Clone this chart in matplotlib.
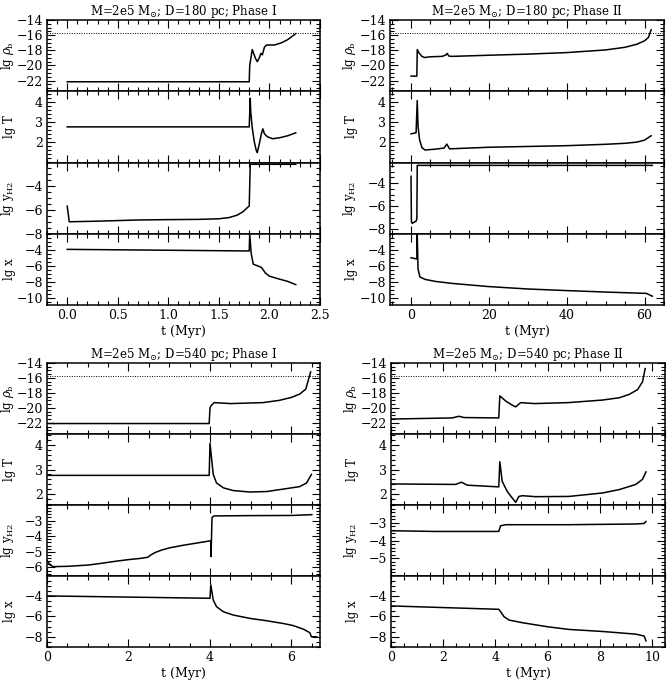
import matplotlib
matplotlib.use('Agg')
import matplotlib.pyplot as plt
from matplotlib.ticker import MultipleLocator

plt.rcParams['font.family'] = 'DejaVu Serif'
plt.rcParams['mathtext.fontset'] = 'dejavuserif'
plt.rcParams['font.size'] = 8.5

# ---- D=180 pc, Phase I ----
t1_rho = [0, 1.80, 1.805, 1.83, 1.86, 1.88, 1.90, 1.915, 1.93, 1.95, 1.97, 2.05, 2.12, 2.18, 2.22, 2.26]
rho1 = [-22.15, -22.15, -20.0, -17.9, -19.0, -19.5, -19.0, -18.4, -18.6, -17.6, -17.3, -17.3, -17.0, -16.6, -16.2, -15.8]
t1_T = [0, 1.80, 1.81, 1.815, 1.83, 1.85, 1.87, 1.88, 1.90, 1.92, 1.935, 1.95, 1.98, 2.03, 2.10, 2.18, 2.26]
T1 = [2.75, 2.75, 4.2, 3.5, 2.7, 2.0, 1.55, 1.45, 1.9, 2.4, 2.65, 2.4, 2.25, 2.15, 2.2, 2.3, 2.45]
t1_y = [0, 0.02, 0.3, 0.7, 1.0, 1.3, 1.5, 1.6, 1.68, 1.74, 1.79, 1.80, 1.81, 2.26]
yh1 = [-5.7, -7.0, -6.95, -6.85, -6.82, -6.8, -6.75, -6.65, -6.45, -6.15, -5.75, -5.7, -2.2, -2.2]
t1_x = [0, 1.80, 1.805, 1.82, 1.84, 1.88, 1.92, 1.96, 2.0, 2.08, 2.18, 2.26]
xe1 = [-3.95, -4.15, -2.1, -4.5, -5.8, -6.0, -6.2, -6.9, -7.3, -7.6, -7.95, -8.35]

# ---- D=180 pc, Phase II ----
t2_rho = [0, 1.5, 1.6, 2.0, 2.8, 3.5, 5, 8, 9.0, 9.3, 9.7, 10.5, 20, 30, 40, 50, 55, 58, 60, 61, 61.7]
rho2 = [-21.4, -21.4, -17.9, -18.3, -18.8, -18.95, -18.85, -18.8, -18.6, -18.4, -18.75, -18.8, -18.65, -18.5, -18.3, -17.95, -17.6, -17.2, -16.75, -16.3, -15.3]
t2_T = [0, 1.3, 1.6, 1.8, 2.2, 2.8, 3.6, 6, 8.5, 9.2, 9.9, 20, 30, 40, 50, 55, 58, 60, 61.7]
T2 = [2.4, 2.45, 4.08, 2.8, 2.1, 1.7, 1.58, 1.62, 1.68, 1.88, 1.64, 1.72, 1.76, 1.8, 1.87, 1.92, 1.98, 2.08, 2.3]
t2_y = [0.0, 0.1, 0.3, 0.8, 1.3, 1.5, 1.6, 62]
yh2 = [-3.4, -7.3, -7.5, -7.4, -7.3, -7.1, -2.45, -2.45]
t2_x = [0, 1.5, 1.6, 1.8, 2.3, 3.6, 6.2, 10.5, 20, 30, 40, 51, 60.5, 62]
xe2 = [-5.0, -5.15, -2.1, -6.4, -7.4, -7.7, -7.95, -8.2, -8.6, -8.9, -9.1, -9.3, -9.45, -9.8]

# ---- D=540 pc, Phase I ----
t3_rho = [0, 3.98, 4.0, 4.03, 4.1, 4.5, 5.3, 5.7, 6.0, 6.2, 6.35, 6.47]
rho3 = [-22.1, -22.1, -20.0, -19.7, -19.3, -19.43, -19.3, -19.0, -18.6, -18.16, -17.5, -15.2]
t3_T = [0, 3.98, 4.0, 4.08, 4.16, 4.33, 4.57, 4.98, 5.39, 5.8, 6.2, 6.37, 6.49]
T3 = [2.76, 2.76, 4.07, 2.8, 2.45, 2.25, 2.14, 2.08, 2.1, 2.2, 2.3, 2.45, 2.8]
t3_y = [0, 0.08, 0.15, 0.5, 1.0, 1.3, 1.7, 2.0, 2.3, 2.47, 2.55, 2.65, 2.8, 3.0, 3.3, 3.6, 4.0, 4.02, 4.025, 4.05, 4.1, 5.0, 6.0, 6.5]
yh3 = [-5.55, -5.85, -5.95, -5.93, -5.85, -5.75, -5.6, -5.5, -5.42, -5.35, -5.2, -5.05, -4.9, -4.75, -4.6, -4.47, -4.3, -4.3, -5.3, -2.8, -2.7, -2.68, -2.67, -2.62]
t3_x = [0, 4.0, 4.02, 4.08, 4.16, 4.33, 4.57, 4.98, 5.39, 5.8, 6.04, 6.29, 6.45, 6.49, 6.62]
xe3 = [-4.0, -4.23, -2.92, -4.4, -5.05, -5.55, -5.87, -6.2, -6.43, -6.7, -6.9, -7.25, -7.6, -8.0, -8.0]

# ---- D=540 pc, Phase II ----
t4_rho = [0, 2.34, 2.6, 2.8, 4.13, 4.17, 4.4, 4.65, 4.78, 4.9, 4.97, 5.5, 6.8, 8.1, 8.75, 9.13, 9.45, 9.64, 9.74]
rho4 = [-21.5, -21.35, -21.13, -21.3, -21.35, -18.4, -19.1, -19.65, -19.87, -19.5, -19.3, -19.43, -19.3, -18.96, -18.65, -18.2, -17.56, -16.5, -14.75]
t4_T = [0, 2.47, 2.7, 2.92, 4.13, 4.17, 4.26, 4.45, 4.65, 4.78, 4.9, 5.03, 5.54, 6.82, 8.1, 8.75, 9.38, 9.64, 9.77]
T4 = [2.41, 2.39, 2.48, 2.36, 2.29, 3.32, 2.52, 2.11, 1.83, 1.66, 1.9, 1.93, 1.89, 1.9, 2.04, 2.18, 2.39, 2.6, 2.9]
t4_y = [0, 1.7, 4.13, 4.2, 4.4, 6.8, 9.38, 9.7, 9.77]
yh4 = [-3.45, -3.49, -3.49, -3.17, -3.11, -3.11, -3.07, -3.04, -2.93]
t4_x = [0, 4.13, 4.2, 4.33, 4.52, 5.03, 6.0, 6.82, 8.1, 9.38, 9.7, 9.77]
xe4 = [-4.98, -5.31, -5.54, -6.03, -6.36, -6.62, -7.02, -7.28, -7.48, -7.74, -7.93, -8.39]

rho_crit = -15.7
ylabels = [r'lg $\rho_{\rm b}$', 'lg T', r'lg y$_{\rm H2}$', 'lg x']

W, H = 669, 683
fig = plt.figure(figsize=(W / 100, H / 100), dpi=100)


def add_group(box, title, xlim, xmaj, xmin, series, ylims, yticks, yminor):
    left, right, top, bottom = box
    h = (bottom - top) / 4.0
    axs = []
    for i in range(4):
        t, v = series[i]
        y_top = top + i * h
        ax = fig.add_axes([left / W, 1 - (y_top + h) / H, (right - left) / W, h / H])
        ax.plot(t, v, color='k', lw=1.1)
        if i == 0:
            ax.axhline(rho_crit, color='k', ls=(0, (1, 1.5)), lw=0.7)
        ax.set_xlim(xlim)
        ax.set_ylim(ylims[i])
        ax.set_yticks(yticks[i])
        ax.yaxis.set_minor_locator(MultipleLocator(yminor[i]))
        ax.xaxis.set_major_locator(MultipleLocator(xmaj))
        ax.xaxis.set_minor_locator(MultipleLocator(xmin))
        ax.tick_params(which='both', direction='in', top=True, right=True, width=0.8)
        ax.tick_params(which='major', length=6, labelsize=9, pad=3)
        ax.tick_params(which='minor', length=3)
        for s in ax.spines.values():
            s.set_linewidth(1.1)
        ax.set_ylabel(ylabels[i], fontsize=8.5)
        ax.yaxis.set_label_coords(-0.115, 0.5)
        if i < 3:
            ax.tick_params(labelbottom=False)
        axs.append(ax)
    axs[0].set_title(title, fontsize=8.5, pad=2)
    axs[3].set_xlabel('t (Myr)', fontsize=9, labelpad=2)
    return axs


add_group((47, 320, 20, 305), r'M=2e5 M$_{\odot}$; D=180 pc; Phase I',
          (-0.2, 2.5), 0.5, 0.1,
          [(t1_rho, rho1), (t1_T, T1), (t1_y, yh1), (t1_x, xe1)],
          [(-23.4, -14), (0.95, 4.55), (-8, -2.05), (-10.9, -2.0)],
          [[-14, -16, -18, -20, -22], [2, 3, 4], [-4, -6, -8], [-4, -6, -8, -10]],
          [0.5, 0.2, 0.5, 0.5])

add_group((390, 664, 20, 305), r'M=2e5 M$_{\odot}$; D=180 pc; Phase II',
          (-5.4, 65), 20, 5,
          [(t2_rho, rho2), (t2_T, T2), (t2_y, yh2), (t2_x, xe2)],
          [(-23.4, -14), (0.95, 4.55), (-8.4, -2.2), (-10.9, -2.0)],
          [[-14, -16, -18, -20, -22], [2, 3, 4], [-4, -6, -8], [-4, -6, -8, -10]],
          [0.5, 0.2, 0.5, 0.5])

add_group((47, 320, 363, 647), r'M=2e5 M$_{\odot}$; D=540 pc; Phase I',
          (0, 6.7), 2, 0.5,
          [(t3_rho, rho3), (t3_T, T3), (t3_y, yh3), (t3_x, xe3)],
          [(-23.5, -14), (1.55, 4.45), (-6.55, -2.0), (-9.0, -2.05)],
          [[-14, -16, -18, -20, -22], [2, 3, 4], [-3, -4, -5, -6], [-4, -6, -8]],
          [0.5, 0.2, 0.2, 0.5])

add_group((391, 665, 363, 647), r'M=2e5 M$_{\odot}$; D=540 pc; Phase II',
          (0, 10.5), 2, 0.5,
          [(t4_rho, rho4), (t4_T, T4), (t4_y, yh4), (t4_x, xe4)],
          [(-23.5, -14), (1.55, 4.45), (-6.0, -2.0), (-9.0, -2.05)],
          [[-14, -16, -18, -20, -22], [2, 3, 4], [-3, -4, -5], [-4, -6, -8]],
          [0.5, 0.2, 0.2, 0.5])

fig.savefig('out.png', dpi=100)
